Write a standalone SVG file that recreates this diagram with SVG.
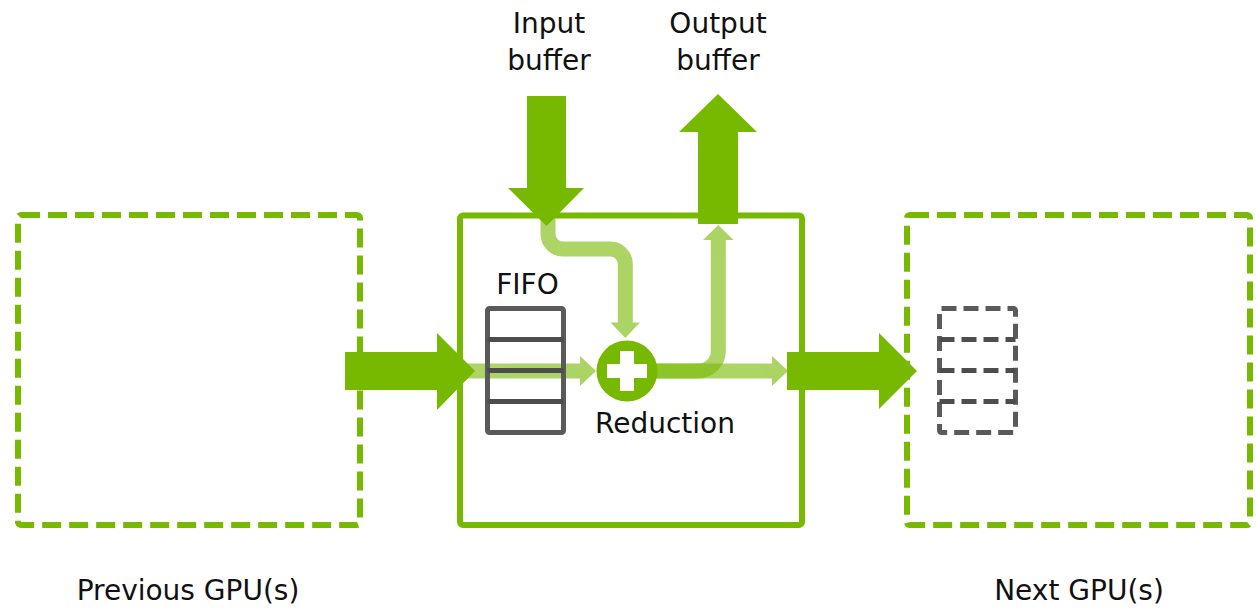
<svg xmlns="http://www.w3.org/2000/svg" width="1256" height="613" viewBox="0 0 1256 613">
  <style>
    .label { font-family: "DejaVu Sans", "Liberation Sans", sans-serif; font-size: 28px; fill: #111; text-anchor: middle; }
    .gpu { fill: none; stroke: #76b900; stroke-width: 6; }
    .dashed { stroke-dasharray: 19 8; }
    .big { fill: #76b900; }
    .flow { fill: none; stroke: #76b900; stroke-width: 15; }
    .flowhead { fill: #76b900; }
    .fifo { fill: none; stroke: #5a5a5a; stroke-width: 5; }
    .slot { stroke: #4d4d4d; stroke-width: 5; }
  </style>

  <!-- GPU boxes -->
  <g id="prev-gpu">
    <rect class="gpu dashed" x="18" y="215" width="342" height="310" rx="3"/>
    <text class="label" x="188" y="600">Previous GPU(s)</text>
  </g>
  <g id="current-gpu">
    <rect class="gpu" x="460" y="215.5" width="342" height="309.5" rx="3"/>
  </g>
  <g id="next-gpu">
    <rect class="gpu dashed" x="907" y="215" width="343" height="310" rx="3"/>
    <text class="label" x="1079" y="600">Next GPU(s)</text>
    <g id="next-fifo" stroke-dasharray="15 7">
      <rect class="fifo" x="939.5" y="308.5" width="76" height="124" rx="2"/>
      <line class="slot" x1="939.5" y1="339.5" x2="1015.5" y2="339.5"/>
      <line class="slot" x1="939.5" y1="370.5" x2="1015.5" y2="370.5"/>
      <line class="slot" x1="939.5" y1="401.5" x2="1015.5" y2="401.5"/>
    </g>
  </g>

  <!-- Buffer labels -->
  <g id="input-buffer">
    <text class="label" x="549" y="33">Input</text>
    <text class="label" x="549" y="70">buffer</text>
  </g>
  <g id="output-buffer">
    <text class="label" x="718" y="33">Output</text>
    <text class="label" x="718" y="70">buffer</text>
  </g>

  <!-- Connectors -->
  <g id="connectors">
    <!-- inner data paths (translucent) -->
    <g opacity="0.6">
      <path class="flow" d="M465,371 H581"/>
      <polygon class="flowhead" points="580,356 580,386 596,371"/>
    </g>
    <g opacity="0.6">
      <path class="flow" d="M548,216 V234 A15,15 0 0 0 563,249 H610 A15,15 0 0 1 625.3,264 V323"/>
      <polygon class="flowhead" points="610.5,322.5 640,322.5 625.3,338"/>
    </g>
    <g opacity="0.6">
      <path class="flow" d="M640,371 H698 A20,20 0 0 0 718.3,351 V239"/>
      <polygon class="flowhead" points="703,240 733.5,240 718.3,225"/>
    </g>
    <g opacity="0.6">
      <path class="flow" d="M640,371 H773"/>
      <polygon class="flowhead" points="772,356 772,386 788,371"/>
    </g>

    <!-- block arrows -->
    <polygon class="big" points="345,352 437,352 437,333 475,371 437,410 437,390 345,390"/>
    <polygon class="big" points="787,352 879,352 879,333 917,371 879,409 879,390 787,390"/>
    <polygon class="big" points="527,96 566,96 566,188 584,188 546.5,226 508,188 527,188"/>
    <polygon class="big" points="698,224 738,224 738,132 757,132 718,94 679,132 698,132"/>
  </g>

  <!-- FIFO in the current GPU -->
  <g id="fifo">
    <rect class="fifo" x="487.5" y="308.5" width="76" height="124" rx="2"/>
    <line class="slot" x1="487.5" y1="339.5" x2="563.5" y2="339.5"/>
    <line class="slot" x1="487.5" y1="370.5" x2="563.5" y2="370.5"/>
    <line class="slot" x1="487.5" y1="401.5" x2="563.5" y2="401.5"/>
    <text class="label" x="527.5" y="294">FIFO</text>
  </g>

  <!-- Reduction operator -->
  <g id="reduction">
    <circle cx="627" cy="371" r="30.5" fill="#76b900"/>
    <rect x="607" y="364" width="40" height="14" fill="#fff"/>
    <rect x="620" y="351" width="14" height="40" fill="#fff"/>
    <text class="label" x="665" y="433">Reduction</text>
  </g>
</svg>
